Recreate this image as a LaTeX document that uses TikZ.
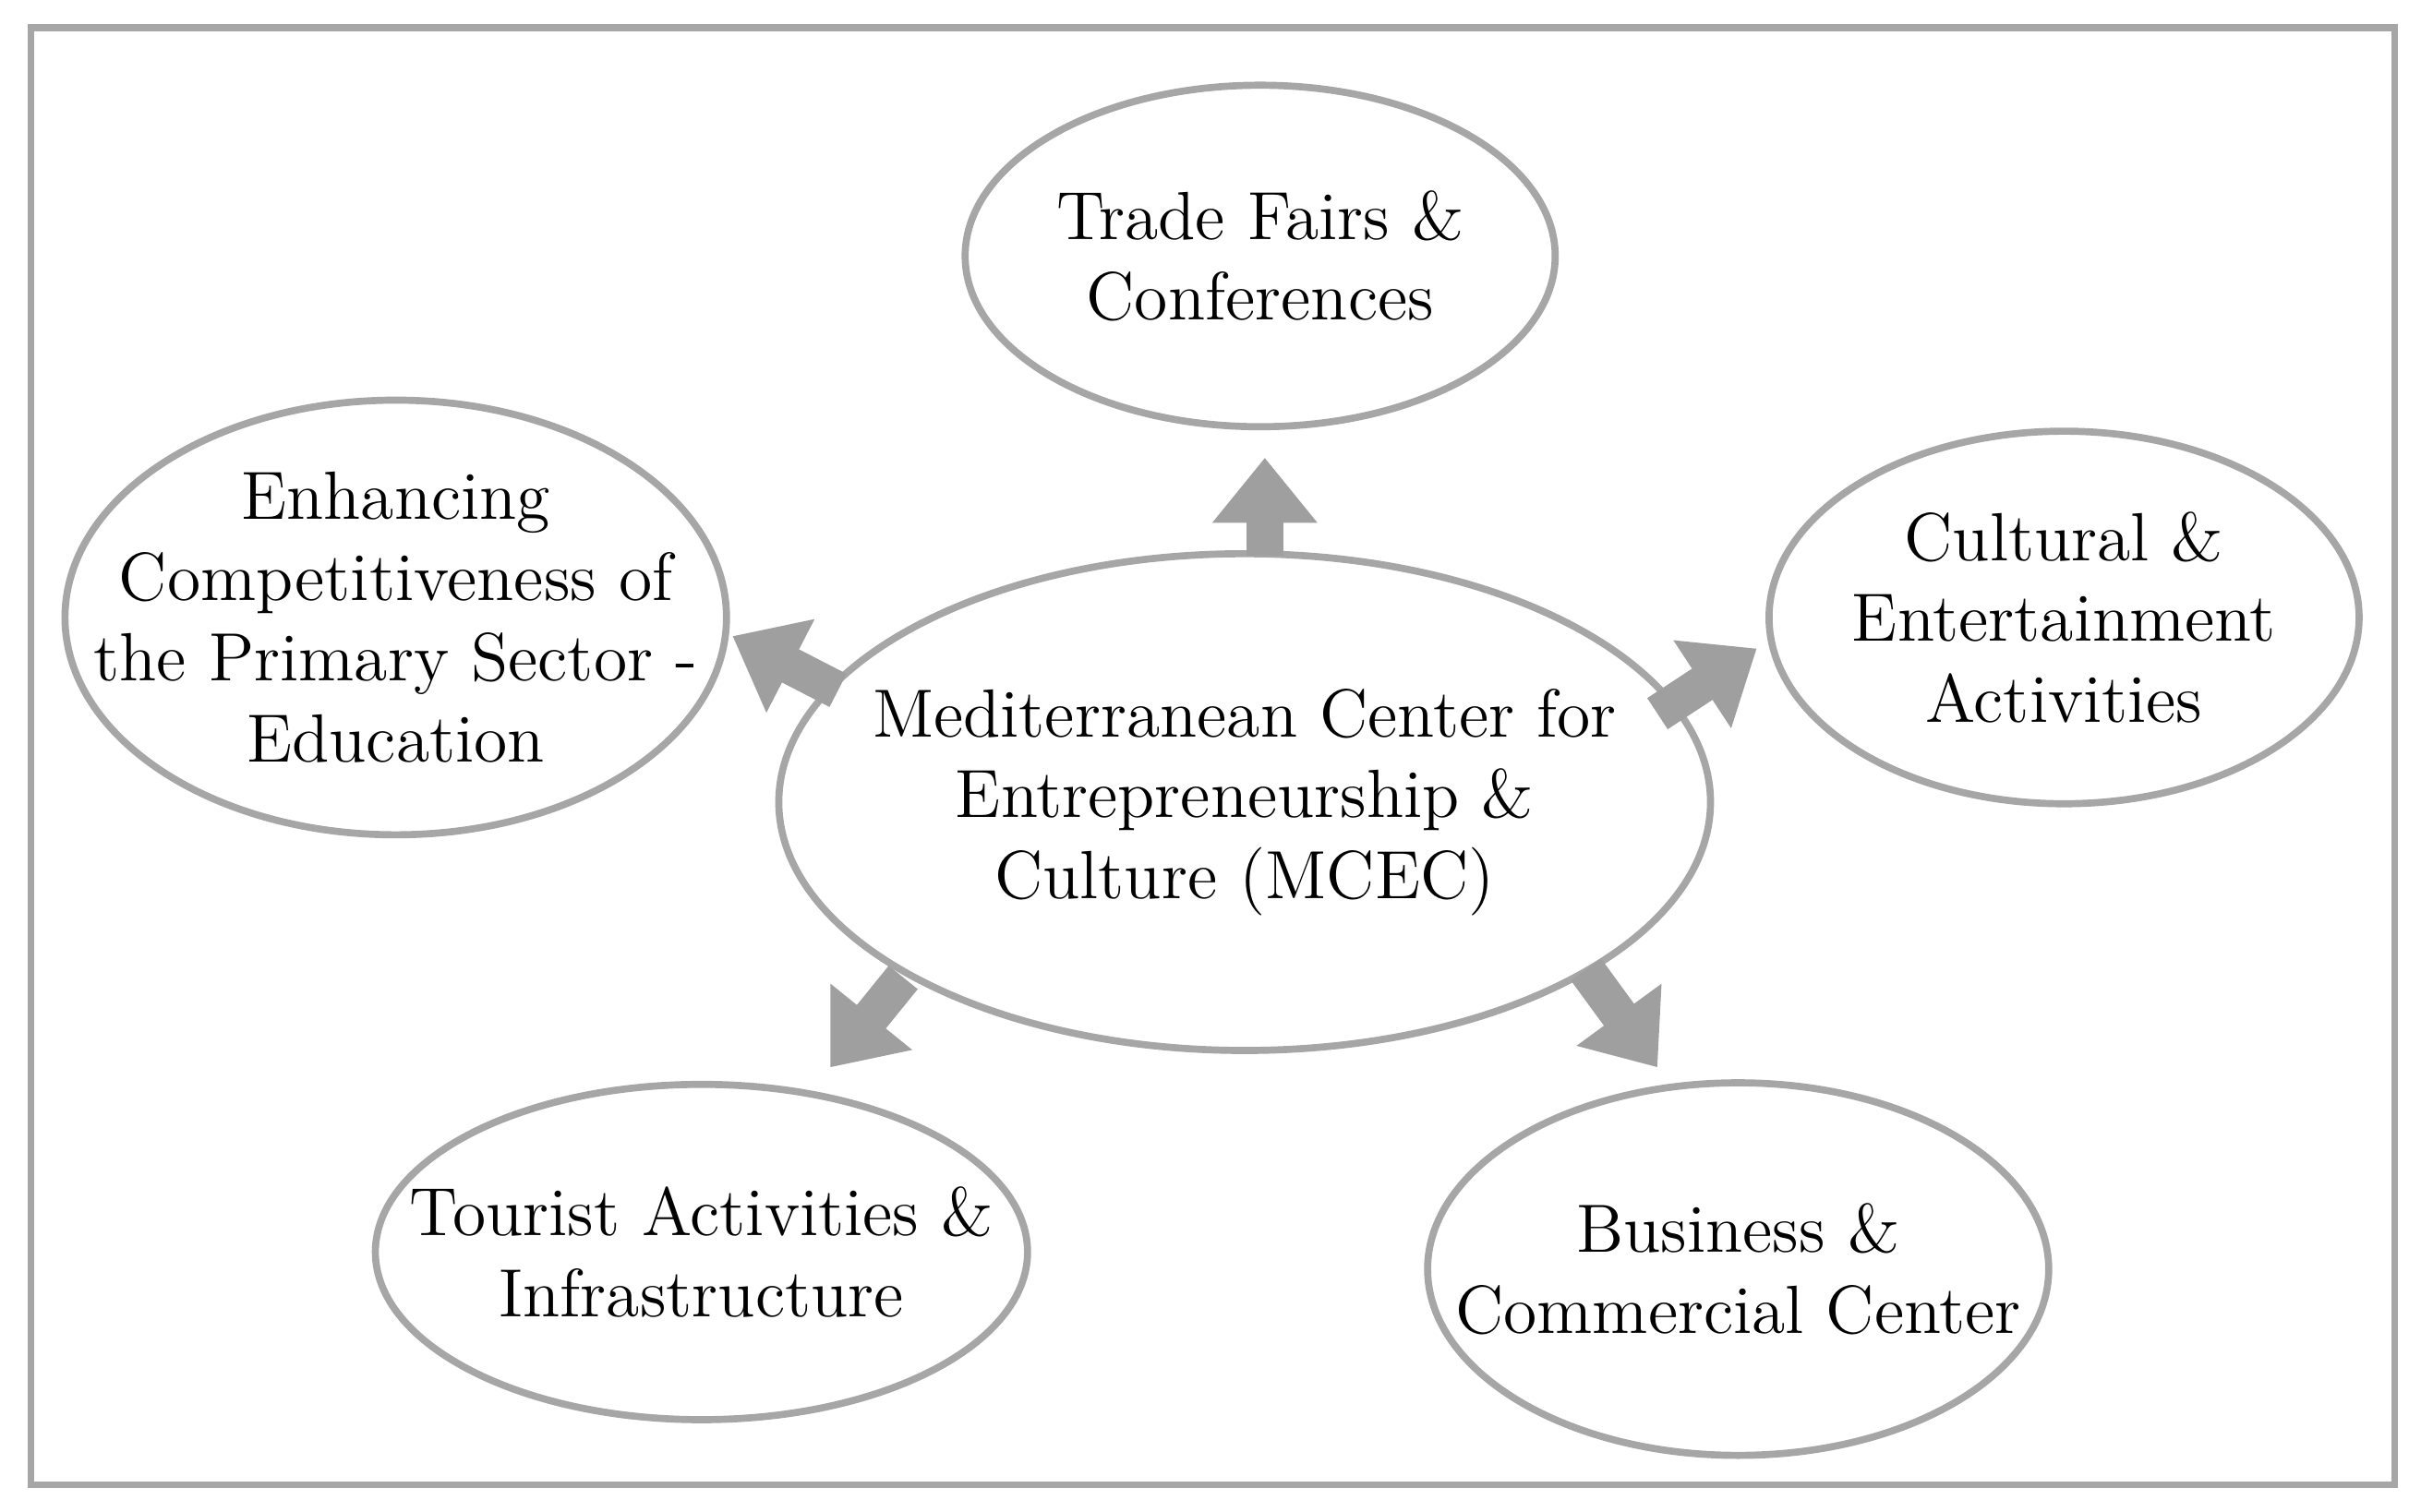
\documentclass[tikz,border=0pt]{standalone}
\usetikzlibrary{shapes.geometric,arrows.meta}
\begin{document}
\begin{tikzpicture}[x=0.01cm,y=-0.01cm,
 el/.style={draw=gray!70,line width=1.3pt,ellipse,inner sep=0pt},
 tx/.style={align=center,inner sep=0pt,font=\fontsize{12.5}{14.8}\selectfont},
 arr/.style={draw=gray!75,line width=0.24cm,-{Triangle[width=0.65cm,length=0.42cm]}}]
\useasboundingbox (0,0) rectangle (1560,974);
\draw[gray!70,line width=1.3pt] (20,18) rectangle (1543,957);
\node[el,minimum width=3.8cm,minimum height=2.2cm] (t) at (812,165) {};
\node[el,minimum width=4.26cm,minimum height=2.8cm] (e) at (255,398) {};
\node[el,minimum width=3.8cm,minimum height=2.4cm] (c) at (1330,398) {};
\node[el,minimum width=6cm,minimum height=3.2cm] (m) at (802,517) {};
\node[el,minimum width=4.2cm,minimum height=2.16cm] (to) at (452,807) {};
\node[el,minimum width=4cm,minimum height=2.4cm] (b) at (1120,818) {};
\node[tx] (tt) at (t) {Trade Fairs \&\\Conferences};
\node[tx] (et) at (e) {Enhancing\\Competitiveness of\\the Primary Sector -\\Education};
\node[tx] (ct) at (c) {Cultural \&\\Entertainment\\Activities};
\node[tx] (mt) at (m) {Mediterranean Center for\\Entrepreneurship \&\\Culture (MCEC)};
\node[tx] (tot) at (to) {Tourist Activities \&\\Infrastructure};
\node[tx] (bt) at (b) {Business \&\\Commercial Center};
\coordinate (a1s) at (815,358); \coordinate (a1e) at (815,295);
\coordinate (a2s) at (540,445); \coordinate (a2e) at (472,410);
\coordinate (a3s) at (1068,460); \coordinate (a3e) at (1132,418);
\coordinate (a4s) at (582,630); \coordinate (a4e) at (535,688);
\coordinate (a5s) at (1022,625); \coordinate (a5e) at (1068,688);
\draw[arr] (a1s) -- (a1e);
\draw[arr] (a2s) -- (a2e);
\draw[arr] (a3s) -- (a3e);
\draw[arr] (a4s) -- (a4e);
\draw[arr] (a5s) -- (a5e);
\end{tikzpicture}
\end{document}
